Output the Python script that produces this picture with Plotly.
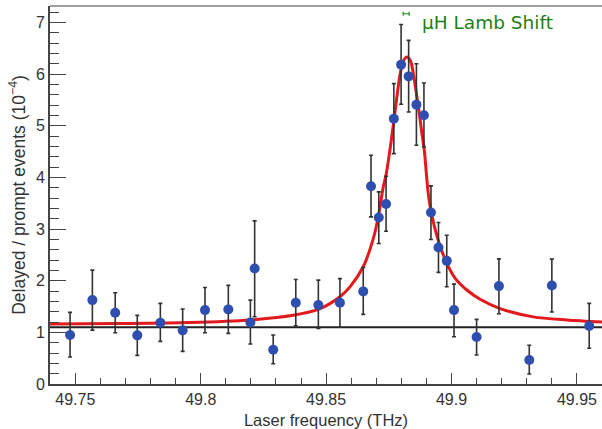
import plotly.graph_objects as go

# ---- data ----
freq = [49.7479, 49.7568, 49.7659, 49.7747, 49.7839, 49.7928, 49.8017, 49.8110,
        49.8198, 49.8215, 49.8289, 49.8379, 49.8469, 49.8555, 49.8648, 49.8679,
        49.8710, 49.8739, 49.8770, 49.8799, 49.8829, 49.8860, 49.8890, 49.8918,
        49.8948, 49.8981, 49.9010, 49.9100, 49.9189, 49.9310, 49.9400, 49.9549]
ratio = [0.948, 1.625, 1.379, 0.942, 1.186, 1.039, 1.431, 1.445,
         1.193, 2.238, 0.663, 1.573, 1.528, 1.573, 1.793, 3.830,
         3.224, 3.487, 5.139, 6.184, 5.957, 5.410, 5.203, 3.321,
         2.644, 2.385, 1.431, 0.909, 1.896, 0.464, 1.909, 1.122]
err_hi = [1.387, 2.205, 1.766, 1.329, 1.561, 1.451, 1.870, 1.909,
          1.625, 3.159, 0.948, 2.025, 2.012, 2.040, 2.257, 4.429,
          3.720, 4.023, 5.816, 6.963, 6.654, 6.203, 5.828, 3.836,
          3.128, 2.882, 1.934, 1.251, 2.424, 0.749, 2.418, 1.561]
err_lo = [0.522, 1.044, 0.992, 0.555, 0.826, 0.632, 0.992, 0.981,
          0.774, 1.302, 0.393, 1.128, 1.077, 1.100, 1.348, 3.236,
          2.721, 2.959, 4.462, 5.416, 5.267, 4.623, 4.590, 2.799,
          2.161, 1.882, 0.915, 0.561, 1.360, 0.193, 1.393, 0.691]

# fitted resonance curve
fit_x = [49.7399, 49.7678, 49.7957, 49.8197, 49.8368, 49.8476, 49.8555, 49.8595,
         49.8648, 49.8690, 49.8708, 49.8728, 49.8739, 49.8757, 49.8768, 49.8795,
         49.8808, 49.8822, 49.8837, 49.8848, 49.8868, 49.8882, 49.8892, 49.8906,
         49.8919, 49.8949, 49.8982, 49.9014, 49.9061, 49.9114, 49.9194, 49.9326,
         49.9460, 49.9600]
fit_y = [1.16, 1.17, 1.19, 1.24, 1.33, 1.46, 1.69, 1.88,
         2.27, 2.85, 3.24, 3.82, 4.05, 4.62, 5.02, 6.00,
         6.25, 6.33, 6.25, 6.00, 5.36, 4.85, 4.50, 3.74,
         3.32, 2.75, 2.33, 2.05, 1.82, 1.64, 1.46, 1.30,
         1.24, 1.20]

background_level = 1.10
lamb_shift_x = 49.8819
lamb_shift_y = 7.17
lamb_shift_err = 0.0012
legend_text = "μH Lamb Shift"

x_ticks = [49.75, 49.80, 49.85, 49.90, 49.95]
x_ticktext = ["49.75", "49.8", "49.85", "49.9", "49.95"]
y_ticks = [0, 1, 2, 3, 4, 5, 6, 7]

X_RANGE = [49.7399, 49.9600]
Y_RANGE = [0, 7.32]

fig = go.Figure()

# background level
fig.add_trace(go.Scatter(x=X_RANGE, y=[background_level, background_level], mode="lines",
                         line=dict(color="#222222", width=2), hoverinfo="skip", showlegend=False))
# fit
fig.add_trace(go.Scatter(x=fit_x, y=fit_y, mode="lines",
                         line=dict(color="#e3191c", width=3, shape="spline", smoothing=0.8),
                         showlegend=False))
# data
fig.add_trace(go.Scatter(
    x=freq, y=ratio, mode="markers",
    marker=dict(color="#2f4fb0", size=10),
    error_y=dict(type="data", symmetric=False,
                 array=[h - v for h, v in zip(err_hi, ratio)],
                 arrayminus=[v - l for v, l in zip(ratio, err_lo)],
                 color="#333333", thickness=1.6, width=2),
    showlegend=False))
# green lamb shift marker
fig.add_trace(go.Scatter(
    x=[lamb_shift_x], y=[lamb_shift_y], mode="markers",
    marker=dict(size=1, color="rgba(0,0,0,0)"),
    error_x=dict(type="constant", value=lamb_shift_err, color="#1a8a1a", thickness=1.2, width=2),
    showlegend=False, cliponaxis=False))

fig.add_annotation(xref="paper", yref="paper", x=(420 - 50) / 552, y=1 - (22 - 6) / 378,
                   xanchor="left", yanchor="middle", text=legend_text, showarrow=False,
                   font=dict(family="DejaVu Sans", size=18.5, color="#1a7f1a"))

fig.add_shape(type="line", xref="paper", yref="paper", x0=0, x1=1, y0=1, y1=1,
              line=dict(color="#a0a0a0", width=2))

axis_font = dict(family="Liberation Sans, Arial", size=16, color="#333333")
fig.update_layout(
    width=602, height=429,
    margin=dict(l=50, r=0, t=6, b=45),
    paper_bgcolor="white", plot_bgcolor="white",
    font=axis_font,
    xaxis=dict(range=X_RANGE, showgrid=False, zeroline=False,
               showline=True, linecolor="#444444", linewidth=2,
               ticks="inside", ticklen=11, tickwidth=1.4, tickcolor="#444444",
               tickvals=x_ticks, ticktext=x_ticktext, tickfont=axis_font,
               minor=dict(dtick=0.01, tick0=49.75, ticks="inside", ticklen=6,
                          tickwidth=1.2, tickcolor="#444444", showgrid=False),
               title=dict(text="Laser frequency (THz)",
                          font=dict(family="Liberation Sans, Arial", size=16.5, color="#333333"),
                          standoff=10),
               automargin=False),
    yaxis=dict(range=Y_RANGE, showgrid=False, zeroline=False,
               showline=True, linecolor="#444444", linewidth=2,
               ticks="inside", ticklen=16, tickwidth=1.4, tickcolor="#444444",
               tickvals=y_ticks, tickfont=axis_font,
               minor=dict(dtick=0.2, tick0=0, ticks="inside", ticklen=9,
                          tickwidth=1.2, tickcolor="#444444", showgrid=False),
               title=dict(text="Delayed / prompt events (10<sup>−4</sup>)",
                          font=dict(family="Liberation Sans, Arial", size=17.5, color="#333333"),
                          standoff=6),
               automargin=False),
)

fig.write_html("out.html")
